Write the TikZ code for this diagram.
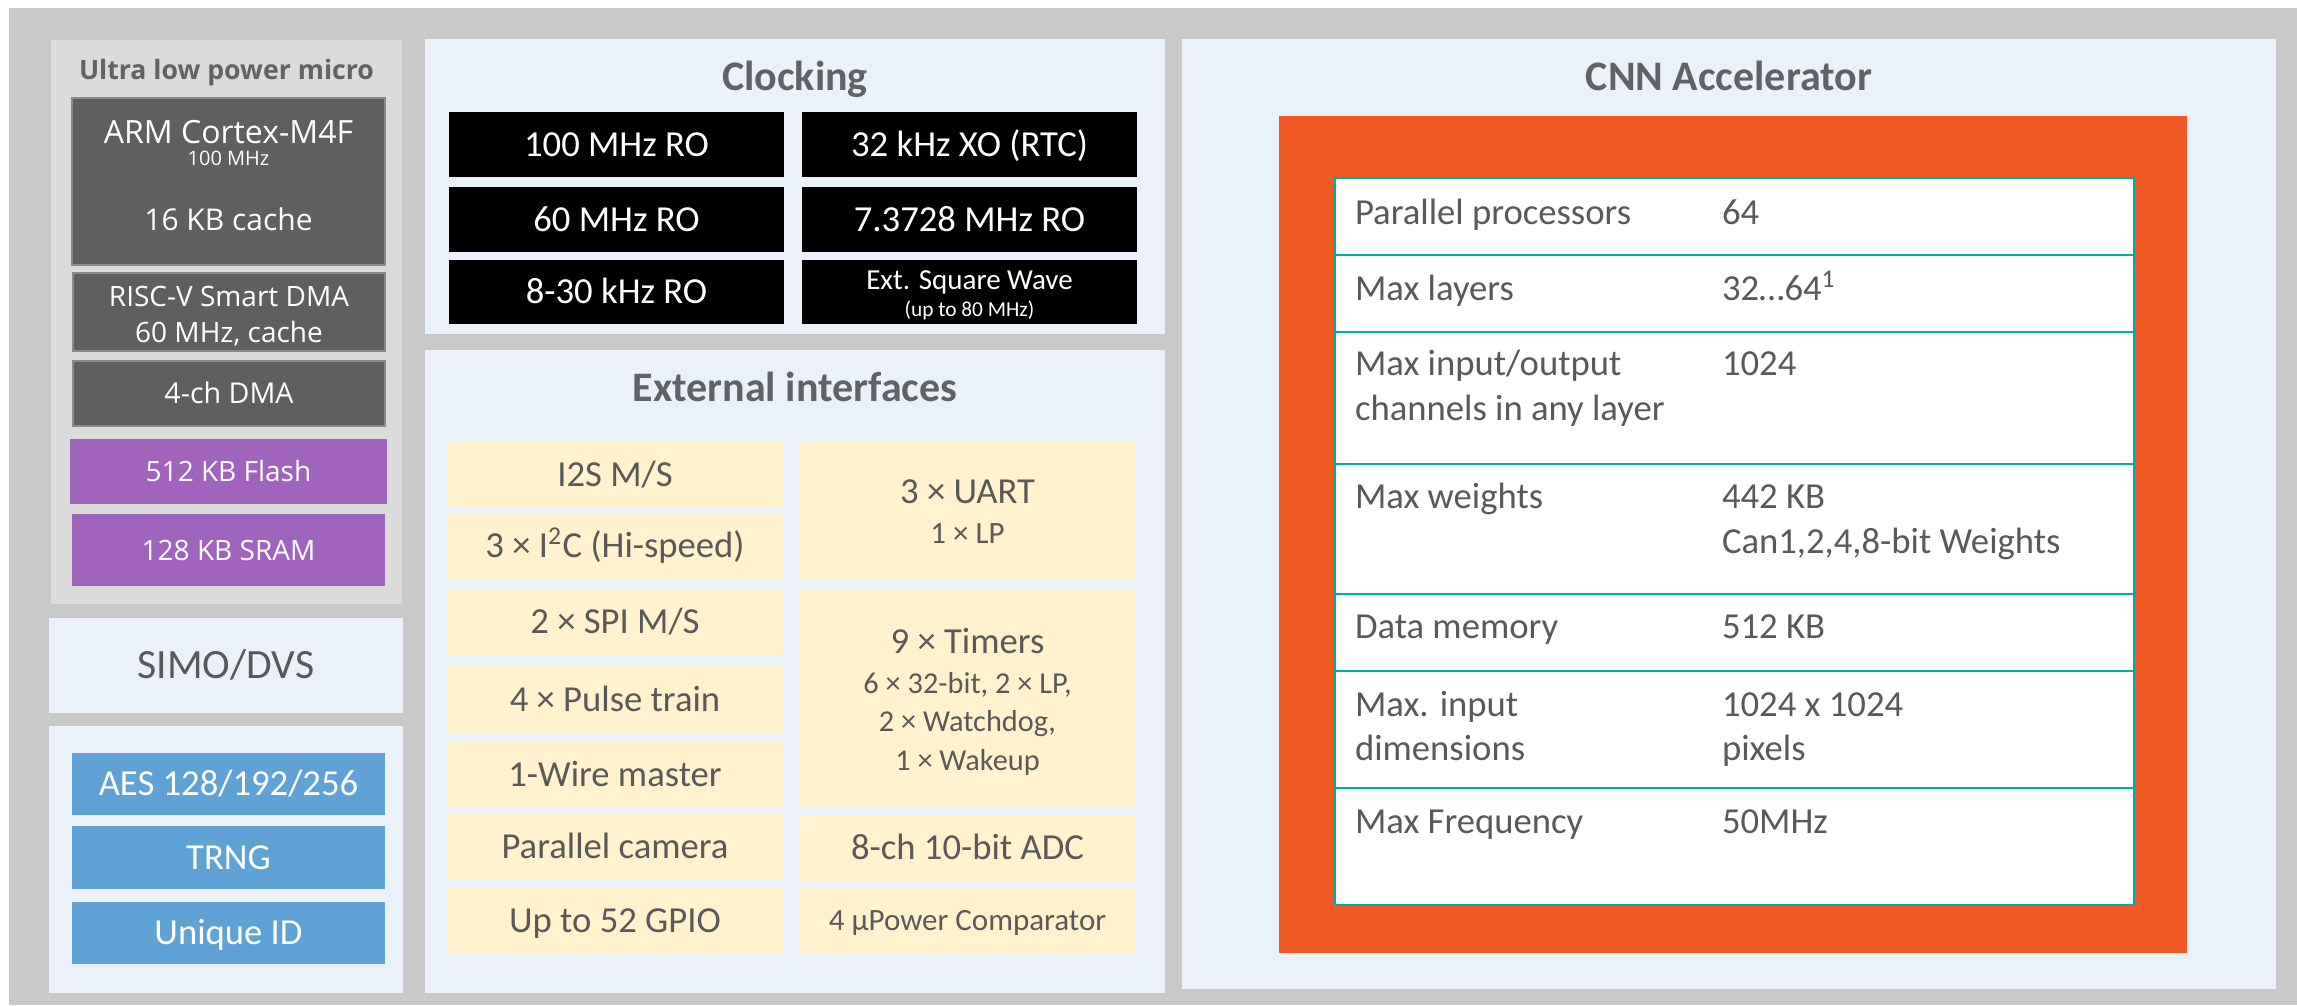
\documentclass[tikz,border=0pt]{standalone}
\usepackage{fontspec}
\setmainfont{Carlito}
\newfontfamily\osans{Open Sans}
\definecolor{cOuter}{HTML}{C8C8C8}
\definecolor{cUlp}{HTML}{DBDBDB}
\definecolor{cDark}{HTML}{5F5F5F}
\definecolor{cRim}{HTML}{8A8A8A}
\definecolor{cPurple}{HTML}{A064BC}
\definecolor{cLight}{HTML}{EAF1F8}
\definecolor{cBlue}{HTML}{5FA3D6}
\definecolor{cYellow}{HTML}{FFF2CC}
\definecolor{cOrange}{HTML}{F15A24}
\definecolor{cTeal}{HTML}{00ADA5}
\definecolor{cText}{HTML}{595959}
\definecolor{cTitle}{HTML}{5F6366}
\newcommand\mkbox[7]{\node[#1, minimum width={(#5-#3)*0.3pt}, minimum height={(#6-#4)*0.3pt}] (#2) at ({(#3+#5)/2},{(#4+#6)/2}) {#7};}
\tikzset{
  basebox/.style={rectangle, inner sep=0pt, outer sep=0pt, draw=none},
  outerbg/.style={basebox, fill=cOuter},
  upanel/.style={basebox, fill=cUlp},
  lbpanel/.style={basebox, fill=cLight},
  darkbox/.style={basebox, fill=cDark, draw=cRim, line width=0.4pt},
  purplebox/.style={basebox, fill=cPurple},
  bluebox/.style={basebox, fill=cBlue, text=white, tc11},
  blackbox/.style={basebox, fill=black, text=white, tc11},
  yelbox/.style={basebox, fill=cYellow, text=cText, tc11},
  orangebox/.style={basebox, fill=cOrange},
  tabrow/.style={basebox, fill=white, draw=cTeal, line width=0.7pt},
  lbl/.style={inner sep=0pt, outer sep=0pt},
  tc11/.style={font=\fontsize{11}{13}\selectfont, text height=7.08pt, text depth=0pt},
  tc93/.style={font=\fontsize{9.3}{11}\selectfont, text height=5.99pt, text depth=0pt},
  tc91/.style={font=\fontsize{9.1}{11}\selectfont, text height=5.86pt, text depth=0pt},
  tc87/.style={font=\fontsize{8.7}{10}\selectfont, text height=5.6pt, text depth=0pt},
  tc64/.style={font=\fontsize{6.4}{8}\selectfont, text height=4.12pt, text depth=0pt},
  tc125/.style={font=\fontsize{12.5}{15}\selectfont, text height=8.05pt, text depth=0pt},
  ttitle/.style={font=\bfseries\fontsize{12.6}{15}\selectfont, text height=8.11pt, text depth=0pt, text=cTitle},
  os96/.style={font=\osans\fontsize{9.6}{11}\selectfont, text height=6.85pt, text depth=0pt},
  os90/.style={font=\osans\fontsize{9}{11}\selectfont, text height=6.43pt, text depth=0pt},
  os86/.style={font=\osans\fontsize{8.6}{10}\selectfont, text height=6.14pt, text depth=0pt},
  os84/.style={font=\osans\fontsize{8.4}{10}\selectfont, text height=6.0pt, text depth=0pt},
  os60/.style={font=\osans\fontsize{6}{7}\selectfont, text height=4.28pt, text depth=0pt},
  osb80/.style={font=\osans\bfseries\fontsize{8}{10}\selectfont, text height=5.71pt, text depth=0pt},
  cell/.style={lbl, tc11, text=cText, anchor=west},
}
\begin{document}
\begin{tikzpicture}[x=0.3pt,y=-0.3pt]
\useasboundingbox (0,0) rectangle (2297,1005);
\fill[white] (0,0) rectangle (2297,1005);
\mkbox{outerbg}{frame}{9}{8}{2297}{1005}{}
% ---------- left column ----------
\mkbox{upanel}{ulp}{51}{40}{402}{604}{}
\node[lbl, osb80, text=cTitle] (ulptitle) at (226.5,70) {Ultra low power micro};
\mkbox{darkbox}{arm}{72}{98}{385}{265}{}
\node[lbl, os96, text=white] (armA) at (228.5,132) {ARM Cortex-M4F};
\node[lbl, os60, text=white] (armB) at (228.5,158) {100 MHz};
\node[lbl, os90, text=white] (armC) at (228.5,220) {16 KB cache};
\mkbox{darkbox}{risc}{73}{273}{385}{351}{}
\node[lbl, os84, text=white] (riscA) at (229,296) {RISC-V Smart DMA};
\node[lbl, os84, text=white] (riscB) at (229,332) {60 MHz, cache};
\mkbox{darkbox, os86, text=white}{dma}{73}{361}{385}{426}{4-ch DMA}
\mkbox{purplebox, os84, text=white}{flash}{70}{439}{387}{504}{512 KB Flash}
\mkbox{purplebox, os84, text=white}{sram}{72}{514}{385}{586}{128 KB SRAM}
\mkbox{lbpanel, tc125, text=cText}{simo}{49}{618}{403}{713}{SIMO/DVS}
\mkbox{lbpanel}{sec}{49}{726}{403}{993}{}
\mkbox{bluebox}{aes}{72}{753}{385}{815}{AES 128/192/256}
\mkbox{bluebox}{trng}{72}{826}{385}{889}{TRNG}
\mkbox{bluebox}{uid}{72}{902}{385}{964}{Unique ID}
% ---------- clocking ----------
\mkbox{lbpanel}{clk}{425}{39}{1165}{334}{}
\node[lbl, ttitle] (clktitle) at (795,77) {Clocking};
\mkbox{blackbox}{c100}{449}{112}{784}{177}{100 MHz RO}
\mkbox{blackbox}{c60}{449}{187}{784}{252}{60 MHz RO}
\mkbox{blackbox}{c8}{449}{260}{784}{324}{8-30 kHz RO}
\mkbox{blackbox}{c32}{802}{112}{1137}{177}{32 kHz XO (RTC)}
\mkbox{blackbox}{c73}{802}{187}{1137}{252}{7.3728 MHz RO}
\mkbox{blackbox}{cext}{802}{260}{1137}{324}{}
\node[lbl, tc87, text=white] (cextA) at (969.5,280) {Ext. Square Wave};
\node[lbl, tc64, text=white] (cextB) at (969.5,310) {(up to 80 MHz)};
% ---------- external interfaces ----------
\mkbox{lbpanel}{ext}{425}{350}{1165}{993}{}
\node[lbl, ttitle] (exttitle) at (795,388) {External interfaces};
\mkbox{yelbox}{i2s}{447}{442}{783}{507}{I2S M/S}
\mkbox{yelbox}{i2c}{447}{513}{783}{579}{3 × I\textsuperscript{2}C (Hi-speed)}
\mkbox{yelbox}{spi}{447}{589}{783}{655}{2 × SPI M/S}
\mkbox{yelbox}{pulse}{447}{666}{783}{733}{4 × Pulse train}
\mkbox{yelbox}{wire}{447}{742}{783}{808}{1-Wire master}
\mkbox{yelbox}{cam}{447}{814}{783}{880}{Parallel camera}
\mkbox{yelbox}{gpio}{447}{888}{783}{953}{Up to 52 GPIO}
\mkbox{yelbox}{uart}{800}{442}{1135}{579}{}
\node[lbl, tc11, text=cText] (uartA) at (967.5,492) {3 × UART};
\node[lbl, tc93, text=cText] (uartB) at (967.5,533) {1 × LP};
\mkbox{yelbox}{tmr}{800}{589}{1135}{808}{}
\node[lbl, tc11, text=cText] (tmrA) at (967.5,642) {9 × Timers};
\node[lbl, tc91, text=cText] (tmrB) at (967.5,684) {6 × 32-bit, 2 × LP,};
\node[lbl, tc91, text=cText] (tmrC) at (967.5,722) {2 × Watchdog,};
\node[lbl, tc91, text=cText] (tmrD) at (967.5,761) {1 × Wakeup};
\mkbox{yelbox}{adc}{800}{815}{1135}{881}{8-ch 10-bit ADC}
\mkbox{yelbox, tc93}{cmp}{800}{887}{1135}{953}{4 μPower Comparator}
% ---------- CNN accelerator ----------
\mkbox{lbpanel}{cnn}{1182}{39}{2276}{989}{}
\node[lbl, ttitle] (cnntitle) at (1729,77) {CNN Accelerator};
\mkbox{orangebox}{orng}{1279}{116}{2187}{953}{}
\mkbox{tabrow}{r1}{1335}{178}{2134}{255}{}
\mkbox{tabrow}{r2}{1335}{255}{2134}{332}{}
\mkbox{tabrow}{r3}{1335}{332}{2134}{464}{}
\mkbox{tabrow}{r4}{1335}{464}{2134}{594}{}
\mkbox{tabrow}{r5}{1335}{594}{2134}{671}{}
\mkbox{tabrow}{r6}{1335}{671}{2134}{788}{}
\mkbox{tabrow}{r7}{1335}{788}{2134}{905}{}
\node[cell] (r1a) at (1355,213) {Parallel processors};
\node[cell] (r1b) at (1722,213) {64};
\node[cell] (r2a) at (1355,289) {Max layers};
\node[cell] (r2b) at (1722,289) {32…64\textsuperscript{1}};
\node[cell] (r3a) at (1355,364) {Max input/output};
\node[cell] (r3c) at (1355,409) {channels in any layer};
\node[cell] (r3b) at (1722,364) {1024};
\node[cell] (r4a) at (1355,497) {Max weights};
\node[cell] (r4b) at (1722,497) {442 KB};
\node[cell] (r4c) at (1722,542) {Can1,2,4,8-bit Weights};
\node[cell] (r5a) at (1355,627) {Data memory};
\node[cell] (r5b) at (1722,627) {512 KB};
\node[cell] (r6a) at (1355,705) {Max. input};
\node[cell] (r6c) at (1355,749) {dimensions};
\node[cell] (r6b) at (1722,705) {1024 x 1024};
\node[cell] (r6d) at (1722,749) {pixels};
\node[cell] (r7a) at (1355,822) {Max Frequency};
\node[cell] (r7b) at (1722,822) {50MHz};
\end{tikzpicture}
\end{document}
